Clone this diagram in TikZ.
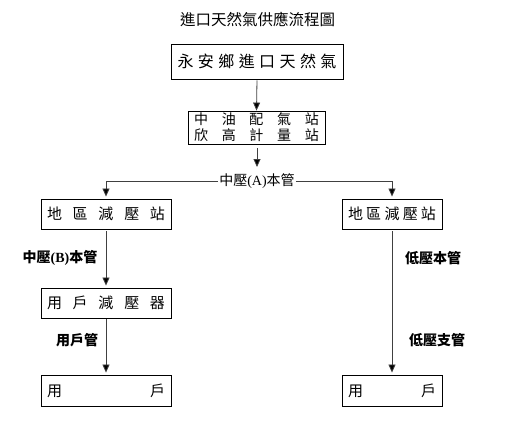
\documentclass[tikz,border=0pt]{standalone}
\usepackage{fontspec}
\setmainfont{Liberation Serif}
\newfontfamily\cjk{Noto Sans CJK TC}
\usetikzlibrary{arrows.meta}
\newcommand\spread[2]{\makebox[#1pt]{#2}}
\tikzset{
    box/.style={draw, line width=0.9pt, inner sep=0pt, font=\cjk\fontsize{15}{16}\selectfont},
    lbl/.style={font=\bfseries\fontsize{14}{16}\selectfont, inner sep=1pt},
    flow/.style={-{Triangle[width=7pt,length=8pt,fill=black]}, line width=0.8pt, draw=black!75}
}
\begin{document}
\begin{tikzpicture}[x=1pt,y=-1pt]
    \useasboundingbox (0,0) rectangle (516,434);
    % title
    \node[font=\cjk\fontsize{15.5}{16}\selectfont] (title) at (257.5,19) {進口天然氣供應流程圖};
    % supply boxes
    \node[box, minimum width=172pt, minimum height=35pt, font=\cjk\fontsize{16}{16}\selectfont] (source) at (257,61.5)
        {\spread{159}{永\hfill 安\hfill 鄉\hfill 進\hfill 口\hfill 天\hfill 然\hfill 氣}};
    \node[box, minimum width=137pt, minimum height=33pt, align=center, font=\cjk\fontsize{14}{16}\selectfont] (meter) at (256.5,127.5)
        {\spread{125}{中\hfill 油\hfill 配\hfill 氣\hfill 站}\\\spread{125}{欣\hfill 高\hfill 計\hfill 量\hfill 站}};
    \node[box, minimum width=130pt, minimum height=30pt] (lsub) at (106,214)
        {\spread{118}{地\hfill 區\hfill 減\hfill 壓\hfill 站}};
    \node[box, minimum width=100pt, minimum height=30pt] (rsub) at (392,214)
        {\spread{88}{地\hfill 區\hfill 減\hfill 壓\hfill 站}};
    \node[box, minimum width=130pt, minimum height=30pt] (lreg) at (106,303)
        {\spread{118}{用\hfill 戶\hfill 減\hfill 壓\hfill 器}};
    \node[box, minimum width=130pt, minimum height=31pt] (luser) at (106,390.5)
        {\spread{118}{用\hfill 戶}};
    \node[box, minimum width=100pt, minimum height=31pt] (ruser) at (392,390.5)
        {\spread{88}{用\hfill 戶}};
    % pipe labels
    \node[font=\fontsize{14}{16}\selectfont, inner sep=1pt] (pipeA) at (257,181) {{\cjk 中壓}(A){\cjk 本管}};
    \node[lbl] (pipeB) at (60,258) {{\cjk 中壓}(B){\cjk 本管}};
    \node[lbl, font=\cjk\bfseries\fontsize{14}{16}\selectfont] (userpipe) at (77,340) {用戶管};
    \node[lbl, font=\cjk\bfseries\fontsize{14}{16}\selectfont] (lowmain) at (433,258) {低壓本管};
    \node[lbl, font=\cjk\bfseries\fontsize{14}{16}\selectfont] (lowbranch) at (437,340) {低壓支管};
    \coordinate (tap) at (257,167);
    % connectors
    \draw[flow, shorten <=1pt] (source.south) -- (meter.north);
    \draw[flow, shorten <=4pt] (meter.south -| tap) -- (tap);
    \draw[flow, shorten >=2pt] (pipeA.west) -| (lsub.north);
    \draw[flow, shorten >=2pt] (pipeA.east) -| (rsub.north);
    \draw[flow, shorten <=2pt, shorten >=2pt] (lsub.south) -- (lreg.north);
    \draw[flow, shorten <=1pt, shorten >=2pt] (lreg.south) -- (luser.north);
    \draw[flow, shorten <=2pt, shorten >=2pt] (rsub.south) -- (ruser.north);
\end{tikzpicture}
\end{document}
